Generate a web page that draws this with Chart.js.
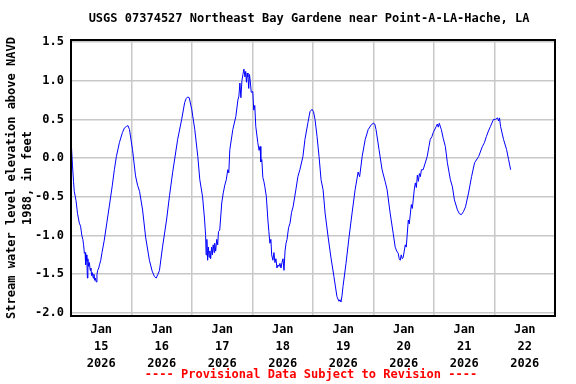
<!DOCTYPE html>
<html>
<head>
<meta charset="utf-8">
<script src="https://cdn.jsdelivr.net/npm/chart.js@4/dist/chart.umd.min.js"></script>
<style>
  html, body { margin: 0; padding: 0; background: #fff; }
  #wrap { width: 576px; height: 384px; }
</style>
</head>
<body>
<div id="wrap"><canvas id="gage"></canvas></div>
<script>
// hours since Jan 15 2026 00:00
const obsHours = [
  0.1, 0.6, 1.0, 1.3, 2.0, 2.6, 3.3, 3.8, 4.3, 4.7, 5.0, 5.3, 5.6, 5.8, 6.0, 6.3, 6.5, 6.7, 7.0, 7.3,
  7.6, 7.9, 8.2, 8.5, 8.8, 9.1, 9.4, 9.7, 10.0, 10.3, 10.6, 11.0, 11.3, 11.8, 12.3, 13.2, 14.2, 15.2, 16.4, 17.2,
  18.0, 19.2, 20.4, 21.2, 22.0, 22.6, 23.2, 24.4, 25.6, 26.4, 27.2, 28.4, 29.6, 31.1, 32.2, 33.1, 33.8, 34.5, 35.1, 36.3,
  37.9, 39.1, 40.3, 42.3, 43.9, 45.1, 45.7, 46.3, 46.9, 47.9, 49.1, 50.3, 51.1, 52.2, 53.0, 53.4, 53.6, 53.9, 54.2, 54.5,
  54.8, 55.1, 55.4, 55.8, 56.1, 56.4, 56.8, 57.0, 57.4, 57.8, 58.2, 58.5, 59.0, 59.8, 60.4, 61.0, 61.6, 62.2, 62.6, 63.0,
  64.2, 65.4, 66.2, 66.6, 67.0, 67.4, 67.8, 68.2, 68.6, 69.0, 69.3, 69.6, 69.9, 70.2, 70.5, 70.8, 71.1, 71.5, 72.1, 72.5,
  72.9, 73.3, 74.1, 74.6, 75.0, 75.3, 75.7, 76.1, 76.5, 76.9, 77.5, 78.1, 78.5, 78.9, 79.3, 79.6, 80.1, 80.5, 80.9, 81.3,
  81.7, 82.1, 82.5, 82.9, 83.3, 83.7, 84.1, 84.5, 84.9, 85.3, 85.7, 86.3, 86.9, 87.5, 88.1, 89.2, 90.0, 90.8, 92.0, 92.8,
  94.0, 94.8, 95.6, 96.2, 96.8, 97.6, 98.4, 99.2, 100.0, 100.8, 102.0, 103.1, 104.3, 105.5, 106.3, 106.7, 107.1, 107.5, 107.9, 109.1,
  110.3, 111.5, 112.7, 113.9, 114.5, 115.5, 116.7, 117.9, 119.1, 119.9, 120.5, 121.0, 122.2, 123.4, 124.6, 125.4, 126.6, 127.8, 128.6, 129.2,
  129.8, 130.2, 130.6, 131.0, 131.4, 131.8, 132.2, 132.6, 133.0, 133.8, 134.2, 135.0, 135.4, 136.2, 136.6, 137.0, 137.4, 137.8, 138.2, 138.6,
  139.0, 139.7, 141.3, 142.0, 142.5, 143.2, 143.7, 144.9, 145.3, 145.7, 146.1, 146.9, 147.7, 148.5, 149.3, 150.5, 151.3, 152.1, 153.3, 154.1,
  154.9, 155.7, 156.5, 157.7, 158.9, 160.1, 161.7, 163.2, 164.0, 164.8, 165.6, 166.4, 167.6, 168.4, 169.2, 169.6, 170.0, 170.4, 171.6, 172.8,
  173.6, 174.4
];
const obsLevel = [
  0.20, -0.10, -0.30, -0.43, -0.55, -0.72, -0.84, -0.88, -1.00, -1.05, -1.12, -1.23, -1.22, -1.38, -1.25, -1.33, -1.55, -1.30, -1.40, -1.35,
  -1.45, -1.42, -1.52, -1.48, -1.55, -1.50, -1.58, -1.55, -1.60, -1.50, -1.45, -1.42, -1.38, -1.32, -1.22, -1.06, -0.84, -0.62, -0.35, -0.15,
  0.02, 0.20, 0.33, 0.39, 0.41, 0.42, 0.37, 0.11, -0.23, -0.35, -0.43, -0.67, -1.02, -1.32, -1.46, -1.53, -1.55, -1.50, -1.45, -1.15,
  -0.80, -0.48, -0.19, 0.24, 0.50, 0.72, 0.77, 0.79, 0.78, 0.63, 0.37, 0.02, -0.28, -0.50, -0.80, -1.00, -1.25, -1.05, -1.32, -1.15,
  -1.28, -1.20, -1.30, -1.15, -1.25, -1.12, -1.22, -1.10, -1.20, -1.05, -1.12, -0.95, -0.93, -0.58, -0.45, -0.35, -0.28, -0.15, -0.19, 0.11,
  0.37, 0.54, 0.75, 0.80, 0.97, 0.78, 1.00, 1.08, 1.15, 1.05, 1.12, 0.98, 1.10, 1.05, 0.90, 1.08, 1.00, 0.85, 0.86, 0.62,
  0.68, 0.41, 0.20, 0.10, 0.15, -0.05, -0.02, -0.25, -0.30, -0.37, -0.50, -0.80, -0.95, -1.10, -1.05, -1.25, -1.32, -1.22, -1.35, -1.30,
  -1.42, -1.38, -1.40, -1.36, -1.42, -1.35, -1.30, -1.45, -1.20, -1.10, -1.05, -0.90, -0.84, -0.70, -0.63, -0.41, -0.24, -0.15, 0.02, 0.24,
  0.46, 0.60, 0.63, 0.60, 0.50, 0.28, 0.02, -0.28, -0.41, -0.71, -1.02, -1.28, -1.53, -1.79, -1.85, -1.83, -1.86, -1.78, -1.66, -1.36,
  -1.02, -0.71, -0.41, -0.18, -0.24, 0.02, 0.24, 0.37, 0.43, 0.45, 0.44, 0.37, 0.11, -0.15, -0.30, -0.41, -0.71, -0.97, -1.15, -1.20,
  -1.23, -1.30, -1.32, -1.25, -1.30, -1.28, -1.20, -1.12, -1.15, -0.80, -0.85, -0.60, -0.65, -0.40, -0.32, -0.38, -0.22, -0.30, -0.20, -0.24,
  -0.15, -0.15, 0.02, 0.15, 0.24, 0.28, 0.33, 0.41, 0.44, 0.40, 0.45, 0.37, 0.25, 0.15, -0.06, -0.28, -0.37, -0.54, -0.67, -0.72,
  -0.73, -0.69, -0.63, -0.45, -0.24, -0.06, 0.02, 0.15, 0.20, 0.28, 0.35, 0.41, 0.50, 0.50, 0.52, 0.48, 0.52, 0.41, 0.24, 0.11,
  -0.02, -0.15
];

const dayNames = ['15', '16', '17', '18', '19', '20', '21', '22'];
const yTicks = [-2.0, -1.5, -1.0, -0.5, 0.0, 0.5, 1.0, 1.5];
const xGrid = [0, 12, 24, 36, 48, 60, 72, 84, 96, 108, 120, 132, 144, 156, 168, 180, 192];
const chartTitle = 'USGS 07374527 Northeast Bay Gardene near Point-A-LA-Hache, LA';
const footNote = '---- Provisional Data Subject to Revision ----';

const monoBold = { family: 'DejaVu Sans Mono', size: 12, weight: 'bold' };

// black frame round the plot area, title and footer centred on it
const frame = {
  id: 'frame',
  afterDraw(chart) {
    const a = chart.chartArea;
    const ctx = chart.ctx;
    const mid = (a.left + a.right) / 2;
    ctx.save();
    ctx.strokeStyle = '#000';
    ctx.lineWidth = 2;
    ctx.strokeRect(a.left, a.top, a.right - a.left, a.bottom - a.top);
    ctx.font = 'bold 12px "DejaVu Sans Mono"';
    ctx.textAlign = 'center';
    ctx.textBaseline = 'middle';
    ctx.fillStyle = '#000';
    ctx.fillText(chartTitle, mid - 4, 19);
    ctx.fillStyle = '#ff0000';
    ctx.fillText(footNote, mid - 2, 375);
    ctx.restore();
  }
};

const points = obsHours.map((h, i) => ({ x: h, y: obsLevel[i] }));

new Chart(document.getElementById('gage'), {
  type: 'line',
  data: {
    datasets: [{
      data: points,
      borderColor: '#0000ff',
      borderWidth: 1,
      pointRadius: 0,
      tension: 0,
      fill: false
    }]
  },
  options: {
    responsive: true,
    maintainAspectRatio: false,
    animation: false,
    layout: { padding: { left: 0, right: 21, top: 40, bottom: 16.4 } },
    plugins: {
      legend: { display: false },
      tooltip: { enabled: false },
      title: { display: false }
    },
    scales: {
      x: {
        type: 'linear',
        min: 0,
        max: 192,
        afterBuildTicks: s => { s.ticks = xGrid.map(v => ({ value: v })); },
        afterFit: s => { s.height = 51.6; },
        grid: {
          color: c => (c.tick && c.tick.value % 24 === 0) ? '#c8c8c8' : 'rgba(0,0,0,0)',
          lineWidth: 1.5,
          drawTicks: false
        },
        border: { display: false },
        ticks: {
          autoSkip: false,
          maxRotation: 0,
          padding: 5,
          color: '#000',
          font: { family: 'DejaVu Sans Mono', size: 12, weight: 'bold', lineHeight: 1.42 },
          callback: v => (v % 24 === 12) ? ['Jan', dayNames[Math.floor(v / 24)], '2026'] : ''
        }
      },
      y: {
        min: -2.04,
        max: 1.526,
        afterBuildTicks: s => { s.ticks = yTicks.map(v => ({ value: v })); },
        afterFit: s => { s.width = 71; },
        grid: { color: '#c8c8c8', lineWidth: 1.5, drawTicks: false },
        border: { display: false },
        ticks: {
          padding: 7,
          color: '#000',
          font: monoBold,
          callback: v => v.toFixed(1)
        },
        title: {
          display: true,
          text: ['Stream water level elevation above NAVD', '1988, in feet'],
          color: '#000',
          font: { family: 'DejaVu Sans Mono', size: 12, weight: 'bold', lineHeight: 1.35 },
          padding: { top: 4, bottom: 0 }
        }
      }
    }
  },
  plugins: [frame]
});
</script>
</body>
</html>
